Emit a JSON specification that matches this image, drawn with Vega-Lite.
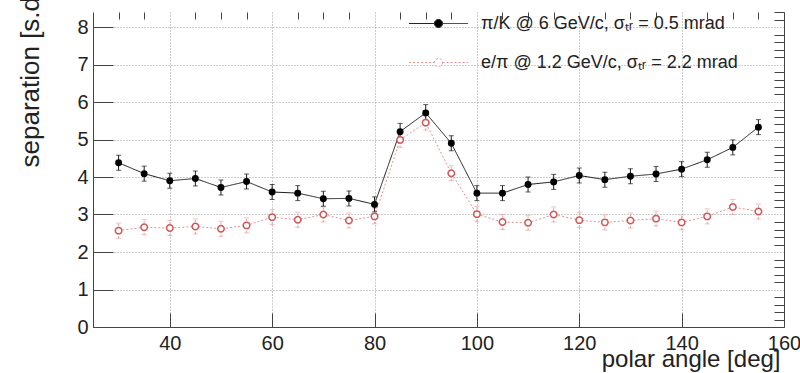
{
  "$schema": "https://vega.github.io/schema/vega-lite/v6.json",
  "width": 691,
  "height": 315,
  "autosize": {"type": "none"},
  "padding": {"left": 93, "top": 12, "right": 16, "bottom": 46},
  "background": "white",
  "config": {
    "view": {"stroke": null},
    "font": "Liberation Sans",
    "axis": {
      "domainColor": "#444",
      "tickColor": "#444",
      "tickWidth": 1,
      "labelColor": "#222",
      "labelFont": "Liberation Sans",
      "titleFont": "Liberation Sans",
      "titleColor": "#222",
      "titleFontWeight": "normal",
      "gridColor": "#999",
      "gridDash": [1, 2],
      "gridWidth": 1
    }
  },
  "data": {
    "values": [
      {"angle": 30, "series": "pk", "value": 4.38, "err": 0.2},
      {"angle": 35, "series": "pk", "value": 4.09, "err": 0.2},
      {"angle": 40, "series": "pk", "value": 3.9, "err": 0.2},
      {"angle": 45, "series": "pk", "value": 3.96, "err": 0.2},
      {"angle": 50, "series": "pk", "value": 3.72, "err": 0.2},
      {"angle": 55, "series": "pk", "value": 3.88, "err": 0.2},
      {"angle": 60, "series": "pk", "value": 3.6, "err": 0.2},
      {"angle": 65, "series": "pk", "value": 3.57, "err": 0.2},
      {"angle": 70, "series": "pk", "value": 3.42, "err": 0.2},
      {"angle": 75, "series": "pk", "value": 3.43, "err": 0.2},
      {"angle": 80, "series": "pk", "value": 3.27, "err": 0.2},
      {"angle": 85, "series": "pk", "value": 5.21, "err": 0.22},
      {"angle": 90, "series": "pk", "value": 5.71, "err": 0.22},
      {"angle": 95, "series": "pk", "value": 4.9, "err": 0.2},
      {"angle": 100, "series": "pk", "value": 3.57, "err": 0.2},
      {"angle": 105, "series": "pk", "value": 3.57, "err": 0.2},
      {"angle": 110, "series": "pk", "value": 3.8, "err": 0.2},
      {"angle": 115, "series": "pk", "value": 3.87, "err": 0.2},
      {"angle": 120, "series": "pk", "value": 4.04, "err": 0.2},
      {"angle": 125, "series": "pk", "value": 3.93, "err": 0.2},
      {"angle": 130, "series": "pk", "value": 4.02, "err": 0.2},
      {"angle": 135, "series": "pk", "value": 4.08, "err": 0.2},
      {"angle": 140, "series": "pk", "value": 4.21, "err": 0.2},
      {"angle": 145, "series": "pk", "value": 4.46, "err": 0.2},
      {"angle": 150, "series": "pk", "value": 4.79, "err": 0.2},
      {"angle": 155, "series": "pk", "value": 5.33, "err": 0.2},
      {"angle": 30, "series": "ep", "value": 2.57, "err": 0.2},
      {"angle": 35, "series": "ep", "value": 2.66, "err": 0.2},
      {"angle": 40, "series": "ep", "value": 2.64, "err": 0.2},
      {"angle": 45, "series": "ep", "value": 2.68, "err": 0.2},
      {"angle": 50, "series": "ep", "value": 2.62, "err": 0.2},
      {"angle": 55, "series": "ep", "value": 2.71, "err": 0.2},
      {"angle": 60, "series": "ep", "value": 2.93, "err": 0.2},
      {"angle": 65, "series": "ep", "value": 2.86, "err": 0.2},
      {"angle": 70, "series": "ep", "value": 3.0, "err": 0.2},
      {"angle": 75, "series": "ep", "value": 2.84, "err": 0.2},
      {"angle": 80, "series": "ep", "value": 2.95, "err": 0.2},
      {"angle": 85, "series": "ep", "value": 4.99, "err": 0.2},
      {"angle": 90, "series": "ep", "value": 5.45, "err": 0.2},
      {"angle": 95, "series": "ep", "value": 4.1, "err": 0.2},
      {"angle": 100, "series": "ep", "value": 3.01, "err": 0.2},
      {"angle": 105, "series": "ep", "value": 2.8, "err": 0.2},
      {"angle": 110, "series": "ep", "value": 2.78, "err": 0.2},
      {"angle": 115, "series": "ep", "value": 3.0, "err": 0.2},
      {"angle": 120, "series": "ep", "value": 2.85, "err": 0.2},
      {"angle": 125, "series": "ep", "value": 2.79, "err": 0.2},
      {"angle": 130, "series": "ep", "value": 2.84, "err": 0.2},
      {"angle": 135, "series": "ep", "value": 2.89, "err": 0.2},
      {"angle": 140, "series": "ep", "value": 2.79, "err": 0.2},
      {"angle": 145, "series": "ep", "value": 2.95, "err": 0.2},
      {"angle": 150, "series": "ep", "value": 3.2, "err": 0.2},
      {"angle": 155, "series": "ep", "value": 3.08, "err": 0.2}
    ]
  },
  "layer": [
    {
      "transform": [{"filter": "datum.series === 'ep'"}],
      "mark": {"type": "errorbar", "color": "#e8a0a0", "ticks": {"size": 5}, "rule": {"strokeDash": [2, 2]}},
      "encoding": {
        "x": {"field": "angle", "type": "quantitative", "scale": {"domain": [25, 160], "nice": false, "zero": false}, "axis": null},
        "y": {"field": "value", "type": "quantitative", "scale": {"domain": [0, 8.4], "nice": false}, "axis": null},
        "yError": {"field": "err"}
      }
    },
    {
      "mark": {"type": "line", "strokeWidth": 1},
      "encoding": {
        "x": {
          "field": "angle", "type": "quantitative",
          "axis": {
            "values": [40, 60, 80, 100, 120, 140, 160],
            "tickSize": -14,
            "labelPadding": 20,
            "labelFontSize": 20,
            "labelFlush": false,
            "labelOverlap": false,
            "grid": true,
            "title": "polar angle [deg]",
            "titleFontSize": 24,
            "titleX": 687,
            "titleY": 39,
            "titleAlign": "right",
            "titleBaseline": "alphabetic"
          }
        },
        "y": {
          "field": "value", "type": "quantitative",
          "axis": {
            "values": [0, 1, 2, 3, 4, 5, 6, 7, 8],
            "tickSize": -20,
            "labelPadding": 25,
            "labelFontSize": 20,
            "labelOverlap": false,
            "grid": true,
            "title": "separation [s.d.]",
            "titleFontSize": 26,
            "titleAngle": 270,
            "titleX": -55,
            "titleY": 155,
            "titleAlign": "left",
            "titleBaseline": "alphabetic"
          }
        },
        "color": {
          "field": "series", "type": "nominal",
          "scale": {"domain": ["pk", "ep"], "range": ["#1a1a1a", "#e59090"]},
          "legend": {
            "orient": "none",
            "legendX": 330,
            "legendY": -4,
            "title": null,
            "padding": 0,
            "symbolType": "M-1.97,0H-0.27M0.27,0H1.97M0.27,0A0.27,0.27 0 1,1 -0.27,0A0.27,0.27 0 1,1 0.27,0Z",
            "symbolSize": 900,
            "symbolStrokeWidth": 1,
            "labelFontSize": 18,
            "labelFont": "Liberation Sans",
            "labelColor": "#222",
            "labelOffset": 27,
            "labelLimit": 0,
            "rowPadding": 14,
            "labelExpr": "datum.value === 'pk' ? 'π/K @ 6 GeV/c, σₜᵣ = 0.5 mrad' : 'e/π @ 1.2 GeV/c, σₜᵣ = 2.2 mrad'",
            "encode": {
              "symbols": {
                "update": {
                  "fill": {"signal": "datum.value === 'pk' ? '#000' : '#fff'"},
                  "fillOpacity": {"value": 1},
                  "strokeDash": {"signal": "datum.value === 'pk' ? [1, 0] : [2, 1.5]"}
                }
              }
            }
          }
        },
        "strokeDash": {
          "field": "series", "type": "nominal",
          "scale": {"domain": ["pk", "ep"], "range": [[1, 0], [2, 2]]},
          "legend": null
        }
      }
    },
    {
      "transform": [{"filter": "datum.series === 'pk'"}],
      "mark": {"type": "errorbar", "color": "#1a1a1a", "ticks": {"size": 5}},
      "encoding": {
        "x": {"field": "angle", "type": "quantitative", "axis": null},
        "y": {"field": "value", "type": "quantitative", "axis": null},
        "yError": {"field": "err"}
      }
    },
    {
      "transform": [{"filter": "datum.series === 'ep'"}],
      "mark": {"type": "point", "shape": "circle", "size": 42, "fill": "#fff", "fillOpacity": 1, "stroke": "#d05555", "strokeWidth": 1.5},
      "encoding": {
        "x": {
          "field": "angle", "type": "quantitative",
          "axis": {
            "values": [30, 35, 45, 50, 55, 65, 70, 75, 85, 90, 95, 105, 110, 115, 125, 130, 135, 145, 150, 155],
            "tickSize": -7,
            "labels": false,
            "domain": false,
            "grid": false,
            "title": null
          }
        },
        "y": {
          "field": "value", "type": "quantitative",
          "axis": {
            "values": [0.2, 0.4, 0.6, 0.8, 1.2, 1.4, 1.6, 1.8, 2.2, 2.4, 2.6, 2.8, 3.2, 3.4, 3.6, 3.8, 4.2, 4.4, 4.6, 4.8, 5.2, 5.4, 5.6, 5.8, 6.2, 6.4, 6.6, 6.8, 7.2, 7.4, 7.6, 7.8, 8.2, 8.4],
            "tickSize": -10,
            "labels": false,
            "domain": false,
            "grid": false,
            "title": null
          }
        }
      }
    },
    {
      "transform": [{"filter": "datum.series === 'pk'"}],
      "mark": {"type": "point", "shape": "circle", "size": 48, "filled": true, "color": "#000", "opacity": 1},
      "encoding": {
        "x": {"field": "angle", "type": "quantitative", "axis": null},
        "y": {
          "field": "value", "type": "quantitative",
          "axis": {"orient": "right", "labels": false, "ticks": false, "grid": false, "domain": true, "title": null}
        }
      }
    }
  ],
  "resolve": {"axis": {"x": "independent", "y": "independent"}}
}
